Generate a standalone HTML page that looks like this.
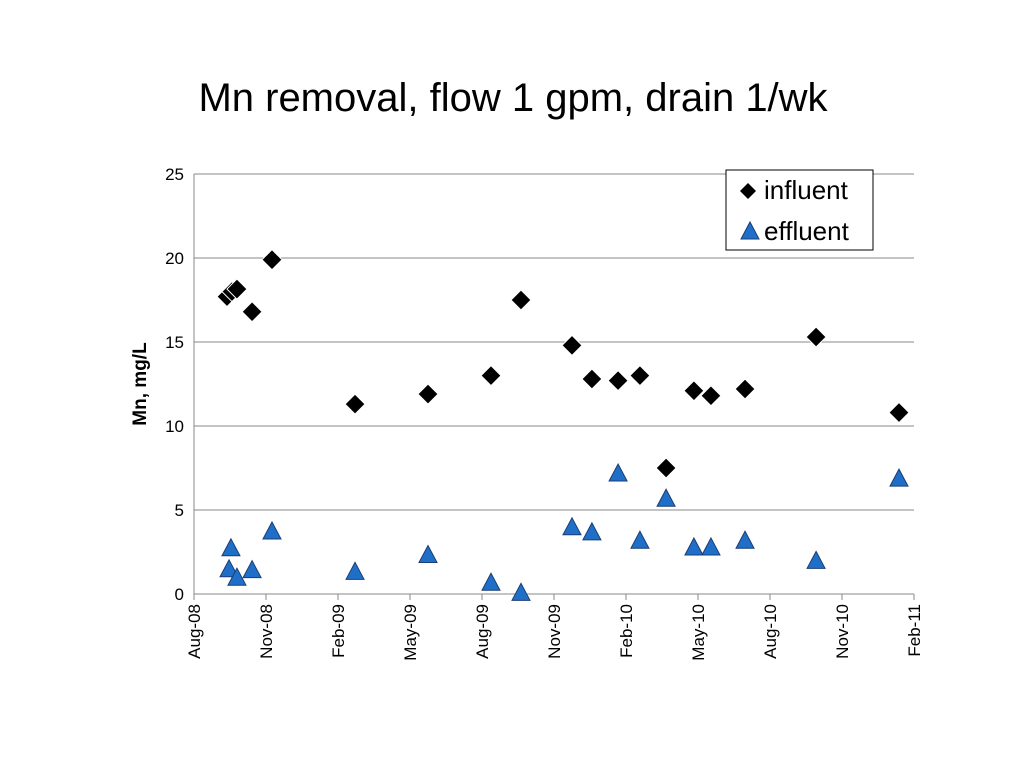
<!DOCTYPE html>
<html><head><meta charset="utf-8"><style>
body{margin:0;background:#fff;}
svg{display:block;font-family:"Liberation Sans",sans-serif;}
</style></head><body>
<svg id="chart" width="1024" height="768">
<text x="513" y="111" text-anchor="middle" font-size="40">Mn removal, flow 1 gpm, drain 1/wk</text>
<text transform="translate(146,384) rotate(-90)" text-anchor="middle" font-size="19" font-weight="bold">Mn, mg/L</text>
<g id="grid"></g><g id="axes"></g><g id="marks"></g>
<g>
<rect x="726" y="170" width="147" height="80" fill="#fff" stroke="#000" stroke-width="1"/>
<path d="M748,183 L756,191 L748,199 L740,191 Z" fill="#000"/>
<text x="764" y="199" font-size="26">influent</text>
<path d="M750,222 L759,239 L741,239 Z" fill="#1f6fc8" stroke="#1a3d73"/>
<text x="764" y="240" font-size="26">effluent</text>
</g>
</svg>
<script>
const xTickLabels=["Aug-08","Nov-08","Feb-09","May-09","Aug-09","Nov-09","Feb-10","May-10","Aug-10","Nov-10","Feb-11"];
const yTicks=[0,5,10,15,20,25];
const influentMonths=[1.375,1.58,1.79,2.42,3.25,6.71,9.75,12.375,13.625,15.75,16.58,17.67,18.58,19.67,20.83,21.54,22.96,25.92,29.375];
const influentValues=[17.7,18.0,18.15,16.8,19.9,11.3,11.9,13.0,17.5,14.8,12.8,12.7,13.0,7.5,12.1,11.8,12.2,15.3,10.8];
const effluentMonths=[1.46,1.54,1.79,2.42,3.25,6.71,9.75,12.375,13.625,15.75,16.58,17.67,18.58,19.67,20.83,21.54,22.96,25.92,29.375];
const effluentValues=[1.5,2.75,1.0,1.45,3.75,1.35,2.35,0.7,0.1,4.0,3.7,7.2,3.2,5.7,2.8,2.8,3.2,2.0,6.9];
const X0=194,X1=914,Y0=594,Y1=174;
const xs=m=>X0+(X1-X0)*m/30;
const ys=v=>Y0-(Y0-Y1)*v/25;
const NS="http://www.w3.org/2000/svg";
function mk(t,a,p){const e=document.createElementNS(NS,t);for(const k in a)e.setAttribute(k,a[k]);p.appendChild(e);return e;}
const grid=document.getElementById('grid'),axes=document.getElementById('axes'),marks=document.getElementById('marks');
yTicks.forEach(v=>{
 const l=mk('line',{x1:X0,x2:X1,y1:ys(v),y2:ys(v),stroke:'#888','stroke-width':1},grid);
 
 
 const t=mk('text',{x:X0-10,y:ys(v)+6,'text-anchor':'end','font-size':17},axes);t.textContent=v;
 
 
});
const ax=mk('line',{x1:X0,x2:X0,y1:Y1,y2:Y0,stroke:'#888'},axes);


xTickLabels.forEach((s,i)=>{
 const x=xs(i*3);
 const tk=mk('line',{x1:x,x2:x,y1:Y0,y2:Y0+6,stroke:'#888'},axes);
 
 
 const t=mk('text',{transform:`translate(${x+6},${Y0+10}) rotate(-90)`,'text-anchor':'end','font-size':17},axes);t.textContent=s;
 
 
});
influentMonths.forEach((m,i)=>{
 const x=xs(m),y=ys(influentValues[i]);
 const p=mk('path',{d:`M${x},${y-10} L${x+10},${y} L${x},${y+10} L${x-10},${y} Z`,fill:'#000',stroke:'#fff','stroke-width':1},marks);
 
 
});
effluentMonths.forEach((m,i)=>{
 const x=xs(m),y=ys(effluentValues[i]);
 const p=mk('path',{d:`M${x},${y-9} L${x+9},${y+8} L${x-9},${y+8} Z`,fill:'#1f6fc8',stroke:'#1a3d73','stroke-width':1},marks);
 
 
});
</script>
</body></html>
